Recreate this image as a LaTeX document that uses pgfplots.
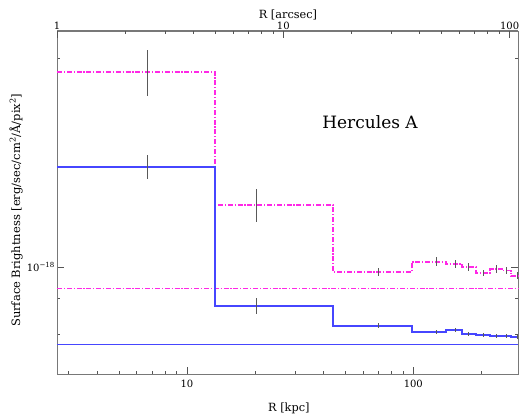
\documentclass[border=0pt]{standalone}
\usepackage{pgfplots}
\pgfplotsset{compat=1.18}
\usepackage{fontspec}
\setmainfont{DejaVu Serif}

\definecolor{profmag}{RGB}{255,40,230}
\definecolor{profblue}{RGB}{70,70,255}
\definecolor{frame}{RGB}{120,120,120}

\begin{document}
\begin{tikzpicture}
\useasboundingbox (0,0) rectangle (520pt,413pt);

% kpc axis (bottom) with the surface-brightness profiles
\begin{axis}[
  at={(57pt,39pt)}, anchor=south west,
  scale only axis, width=461pt, height=343pt,
  xmode=log, ymode=log,
  xmin=2.665, xmax=290.1,
  ymin=7.0e-19, ymax=2.19e-18,
  axis line style={frame, line width=1pt},
  tick style={frame!70!black, line width=0.7pt},
  tick align=inside,
  major tick length=7pt, minor tick length=3.5pt,
  xtick pos=left, ytick pos=both,
  xtick={10,100}, xticklabels={10,100},
  minor xtick={3,4,5,6,7,8,9,20,30,40,50,60,70,80,90,200},
  ytick={1e-18}, yticklabels={10\textsuperscript{−18}},
  minor ytick={8e-19,9e-19,2e-18},
  /pgf/number format/assume math mode=true,
  tick label style={font=\fontsize{10}{11}\selectfont},
  xticklabel style={inner sep=1pt, yshift=-5pt},
  yticklabel style={inner sep=2pt},
  xlabel={R [kpc]},
  xlabel style={at={(axis description cs:0.503,-0.099)}, anchor=center, font=\fontsize{11.3}{13}\selectfont},
  ylabel={Surface Brightness [erg/sec/cm\textsuperscript{2}/Å/pix\textsuperscript{2}]},
  ylabel style={at={(axis description cs:-0.089,0.478)}, anchor=center, font=\fontsize{11.5}{13}\selectfont},
  clip=false,
]
% background levels
\addplot[profmag, line width=1.3pt, dash pattern=on 5pt off 1.8pt on 1.2pt off 1.8pt]
  coordinates {(2.665,0.931e-18) (290.1,0.931e-18)};
\addplot[profblue, line width=1.3pt]
  coordinates {(2.665,0.773e-18) (290.1,0.773e-18)};

% binned profiles (left bin edge, level)
\addplot[profmag, line width=1.3pt, const plot mark left, dash pattern=on 5pt off 1.8pt on 1.2pt off 1.8pt]
  coordinates {
    (2.665,1.913e-18) (13.3,1.229e-18) (44.2,0.9835e-18) (98.7,1.0168e-18)
    (139.5,1.010e-18) (164.2,1.000e-18) (189.3,0.980e-18) (218.3,0.993e-18)
    (246.6,0.987e-18) (270.3,0.9705e-18) (290.1,0.9705e-18)};
\addplot[profblue, line width=1.3pt, const plot mark left]
  coordinates {
    (2.665,1.394e-18) (13.3,0.8782e-18) (44.2,0.8219e-18) (98.7,0.8056e-18)
    (139.5,0.8110e-18) (164.2,0.8002e-18) (189.3,0.7975e-18) (218.3,0.7948e-18)
    (246.6,0.7948e-18) (270.3,0.7922e-18) (290.1,0.7922e-18)};

% uncertainties
\addplot[draw=none, mark=none, forget plot,
  error bars/.cd, y dir=both, y explicit, error mark=none,
  error bar style={draw=black!65, solid, line width=0.8pt}]
  table[x=x, y=y, y error=e] {
    x     y           e
    6.66  1.913e-18   0.147e-18
    20.2  1.229e-18   0.068e-18
    69.8  0.9835e-18  0.013e-18
    126   1.0168e-18  0.015e-18
    153   1.010e-18   0.013e-18
    176   1.000e-18   0.012e-18
    203   0.980e-18   0.009e-18
    234   0.993e-18   0.013e-18
    257   0.987e-18   0.012e-18
    287   0.9705e-18  0.011e-18
  };
\addplot[draw=none, mark=none, forget plot,
  error bars/.cd, y dir=both, y explicit, error mark=none,
  error bar style={draw=black!65, solid, line width=0.8pt}]
  table[x=x, y=y, y error=e] {
    x     y           e
    6.66  1.394e-18   0.056e-18
    20.2  0.878e-18   0.024e-18
    69.8  0.8219e-18  0.007e-18
    126   0.8056e-18  0.006e-18
    153   0.8110e-18  0.006e-18
    176   0.8002e-18  0.005e-18
    203   0.7975e-18  0.005e-18
    234   0.7948e-18  0.005e-18
    257   0.7948e-18  0.005e-18
    287   0.7922e-18  0.005e-18
  };

\node[font=\fontsize{17}{19}\selectfont, anchor=center] at (axis description cs:0.679,0.735) {Hercules A};
\end{axis}

% arcsec axis (top)
\begin{axis}[
  at={(57pt,39pt)}, anchor=south west,
  scale only axis, width=461pt, height=343pt,
  xmode=log, xmin=1, xmax=108.9,
  ymin=0, ymax=1,
  axis x line*=top, axis y line=none,
  axis line style={frame, line width=1pt, -},
  tick style={frame!70!black, line width=0.7pt},
  tick align=inside,
  major tick length=7pt, minor tick length=3.5pt,
  xtick={1,10,100}, xticklabels={1,10,100},
  minor xtick={2,3,4,5,6,7,8,9,20,30,40,50,60,70,80,90},
  /pgf/number format/assume math mode=true,
  tick label style={font=\fontsize{10}{11}\selectfont},
  xticklabel style={inner sep=1pt},
  xlabel={R [arcsec]},
  xlabel style={at={(axis description cs:0.501,1.047)}, anchor=center, font=\fontsize{11.3}{13}\selectfont},
]
\end{axis}
\end{tikzpicture}
\end{document}
